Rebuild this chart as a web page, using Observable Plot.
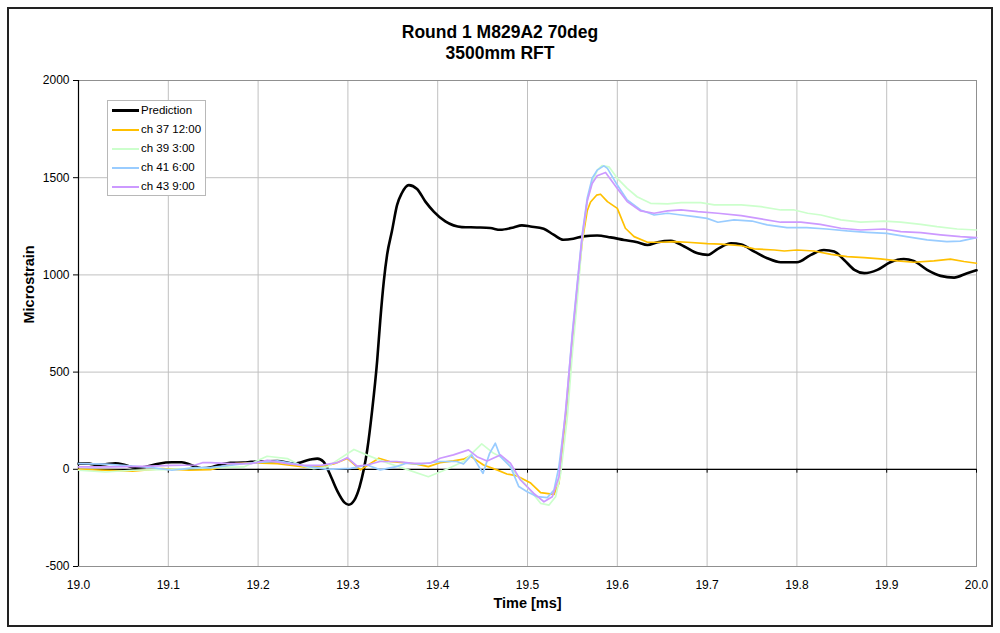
<!DOCTYPE html>
<html>
<head>
<meta charset="utf-8">
<script src="https://cdn.jsdelivr.net/npm/d3@7"></script>
<script src="https://cdn.jsdelivr.net/npm/@observablehq/plot@0.6"></script>
<style>
  body { margin: 0; background: #fff; }
  #chart { position: relative; width: 1000px; height: 633px; font-family: "Liberation Sans", Arial, sans-serif; overflow: hidden; }
  #border { position: absolute; left: 7px; top: 7px; width: 986px; height: 620px; border: 2px solid #222; box-sizing: border-box; pointer-events: none; }
  #title { position: absolute; left: 0; top: 22px; width: 1000px; text-align: center; font-weight: bold; font-size: 17.5px; line-height: 21px; color: #000; }
  #plotwrap { position: absolute; left: 0; top: 70px; }
  #legend { position: absolute; left: 107px; top: 100px; width: 99px; height: 96px; border: 1px solid #b8b8b8; background: #fff; box-sizing: border-box; }
  .item { position: relative; height: 19px; font-size: 11.5px; line-height: 19px; color: #000; }
  .swatch { position: absolute; left: 4px; top: 9px; width: 27px; }
  .label { position: absolute; left: 33px; top: 0; white-space: nowrap; }
</style>
</head>
<body>
<div id="chart">
  <div id="title">Round 1 M829A2 70deg<br>3500mm RFT</div>
  <div id="plotwrap"></div>
  <div id="legend"></div>
  <div id="border"></div>
</div>
<script>
// ---- data ----
const seriesNames = ["Prediction", "ch 37 12:00", "ch 39 3:00", "ch 41 6:00", "ch 43 9:00"];
const xTicks = [19.0, 19.1, 19.2, 19.3, 19.4, 19.5, 19.6, 19.7, 19.8, 19.9, 20.0];
const yTicks = [-500, 0, 500, 1000, 1500, 2000];

const prediction = [
  [19.000, 29], [19.012, 29], [19.019, 22], [19.030, 26], [19.041, 31], [19.052, 22], [19.063, 8],
  [19.074, 12], [19.089, 29], [19.104, 36], [19.115, 36], [19.126, 21], [19.137, 5], [19.149, 12],
  [19.160, 26], [19.169, 33], [19.184, 35], [19.192, 38], [19.2215, 43], [19.240, 29], [19.258, 50],
  [19.266, 55], [19.273, 38], [19.279, -15], [19.288, -110], [19.296, -170], [19.301, -182],
  [19.307, -160], [19.313, -90], [19.3215, 99], [19.327, 303], [19.3326, 559], [19.336, 764],
  [19.340, 968], [19.3437, 1105], [19.349, 1224], [19.3548, 1360], [19.360, 1420], [19.3678, 1462],
  [19.377, 1442], [19.3863, 1377], [19.3956, 1326], [19.4085, 1275], [19.427, 1246], [19.4437, 1244],
  [19.4585, 1241], [19.4696, 1232], [19.4844, 1244], [19.4937, 1255], [19.5033, 1249], [19.518, 1237],
  [19.529, 1207], [19.540, 1181], [19.551, 1186], [19.562, 1198], [19.5776, 1203], [19.5925, 1193],
  [19.6075, 1180], [19.6224, 1168], [19.6336, 1154], [19.6448, 1168], [19.6597, 1175], [19.6746, 1146],
  [19.6896, 1111], [19.7007, 1103], [19.712, 1134], [19.7267, 1163], [19.738, 1156], [19.7526, 1120],
  [19.767, 1086], [19.782, 1065], [19.800, 1065], [19.8156, 1103], [19.830, 1128], [19.8415, 1120],
  [19.8526, 1077], [19.864, 1026], [19.875, 1009], [19.8896, 1026], [19.904, 1065], [19.919, 1082],
  [19.930, 1072], [19.945, 1026], [19.960, 995], [19.975, 986], [19.9896, 1009], [20.000, 1024]
];

const ch37 = [
  [19.000, 0], [19.030, -5], [19.060, -9], [19.093, 3], [19.123, -5], [19.147, -2], [19.175, 29],
  [19.192, 33], [19.2215, 29], [19.251, 12], [19.270, 12], [19.285, 29], [19.2993, 56], [19.314, -3],
  [19.3344, 57], [19.3466, 40], [19.3616, 34], [19.3765, 27], [19.3896, 14], [19.4026, 34],
  [19.4175, 43], [19.4287, 52], [19.436, 69], [19.451, 22], [19.466, -3], [19.477, -24], [19.4884, -34],
  [19.503, -69], [19.5146, -120], [19.5295, -129], [19.535, -72], [19.5388, 100], [19.5444, 357],
  [19.5498, 650], [19.5553, 920], [19.5609, 1170], [19.5665, 1330], [19.5702, 1375], [19.5769, 1410],
  [19.5813, 1415], [19.589, 1377], [19.600, 1342], [19.609, 1240], [19.6187, 1197], [19.6336, 1168],
  [19.6485, 1168], [19.6634, 1171], [19.678, 1168], [19.700, 1161], [19.7156, 1158], [19.738, 1150],
  [19.7526, 1134], [19.775, 1128], [19.786, 1123], [19.800, 1128], [19.819, 1123], [19.838, 1106],
  [19.856, 1094], [19.875, 1089], [19.893, 1082], [19.912, 1072], [19.930, 1065], [19.9526, 1072],
  [19.971, 1081], [19.986, 1069], [20.000, 1060]
];

const ch39 = [
  [19.000, -5], [19.030, -14], [19.060, -5], [19.093, -2], [19.123, 3], [19.152, 9], [19.184, 12],
  [19.210, 67], [19.2325, 55], [19.247, 21], [19.262, 3], [19.277, 12], [19.288, 46], [19.3067, 102],
  [19.3215, 73], [19.340, 39], [19.362, 5], [19.3896, -38], [19.410, 0], [19.4287, 40], [19.449, 131],
  [19.4623, 82], [19.4735, 57], [19.485, -12], [19.4996, -89], [19.5146, -175], [19.524, -184],
  [19.5313, -141], [19.537, -21], [19.5444, 271], [19.550, 600], [19.556, 900], [19.5609, 1180],
  [19.5665, 1380], [19.572, 1480], [19.578, 1540], [19.583, 1562], [19.5907, 1556], [19.600, 1497],
  [19.611, 1445], [19.622, 1402], [19.637, 1368], [19.656, 1365], [19.671, 1372], [19.693, 1372],
  [19.708, 1360], [19.738, 1360], [19.760, 1351], [19.782, 1334], [19.797, 1334], [19.812, 1317],
  [19.8267, 1308], [19.849, 1283], [19.871, 1271], [19.897, 1277], [19.9156, 1271], [19.938, 1260],
  [19.956, 1248], [19.9785, 1236], [20.000, 1231]
];

const ch41 = [
  [19.000, 29], [19.030, 27], [19.060, 17], [19.082, 9], [19.104, -5], [19.130, 9], [19.147, 9],
  [19.184, 29], [19.2215, 43], [19.240, 29], [19.258, 12], [19.277, 0], [19.303, 5], [19.3215, 22],
  [19.336, -3], [19.354, 14], [19.365, 31], [19.380, 27], [19.4026, 40], [19.4213, 40], [19.4287, 27],
  [19.438, 74], [19.4504, -21], [19.4578, 82], [19.4642, 134], [19.4698, 65], [19.481, 14],
  [19.4903, -89], [19.4996, -115], [19.511, -141], [19.522, -146], [19.5295, -107], [19.535, 14],
  [19.5425, 289], [19.5498, 695], [19.5553, 951], [19.5609, 1207], [19.5665, 1394], [19.572, 1497],
  [19.5776, 1539], [19.585, 1561], [19.589, 1548], [19.600, 1462], [19.611, 1385], [19.626, 1334],
  [19.641, 1308], [19.656, 1317], [19.671, 1308], [19.686, 1300], [19.700, 1291], [19.712, 1271],
  [19.730, 1283], [19.750, 1277], [19.767, 1257], [19.789, 1243], [19.811, 1243], [19.833, 1236],
  [19.856, 1226], [19.878, 1219], [19.900, 1214], [19.922, 1197], [19.945, 1180], [19.967, 1171],
  [19.982, 1174], [20.000, 1192]
];

const ch43 = [
  [19.000, 12], [19.034, 12], [19.071, 15], [19.104, 20], [19.130, 22], [19.138, 34], [19.147, 34],
  [19.169, 29], [19.192, 29], [19.210, 46], [19.2325, 29], [19.251, 20], [19.270, 20], [19.288, 34],
  [19.2993, 60], [19.310, 17], [19.3215, 22], [19.3355, 40], [19.3543, 40], [19.3728, 31],
  [19.3914, 31], [19.4026, 57], [19.4175, 74], [19.4343, 100], [19.4437, 65], [19.455, 43],
  [19.4698, 74], [19.481, 31], [19.4922, -55], [19.507, -124], [19.5183, -167], [19.5276, -141],
  [19.535, -38], [19.5425, 306], [19.5498, 680], [19.5553, 940], [19.5609, 1200], [19.5665, 1380],
  [19.572, 1470], [19.5776, 1510], [19.5869, 1527], [19.600, 1445], [19.611, 1377], [19.626, 1329],
  [19.641, 1317], [19.656, 1329], [19.671, 1334], [19.6896, 1325], [19.712, 1317], [19.738, 1305],
  [19.760, 1288], [19.782, 1271], [19.8044, 1271], [19.826, 1260], [19.849, 1240], [19.871, 1231],
  [19.897, 1236], [19.9156, 1223], [19.938, 1217], [19.960, 1206], [19.982, 1197], [20.000, 1192]
];

// ---- styles ----
const seriesData = [prediction, ch37, ch39, ch41, ch43];
const seriesColors = ["#000000", "#ffc000", "#ccffcc", "#99ccff", "#cc99ff"];
const seriesWidths = [2.6, 1.7, 1.7, 1.7, 1.7];

const lineMarks = seriesData.map((s, i) =>
  Plot.line(s, {
    x: d => d[0], y: d => d[1],
    stroke: seriesColors[i], strokeWidth: seriesWidths[i],
    curve: i === 0 ? "monotone-x" : "linear",
    strokeLinejoin: "round", strokeLinecap: "round"
  })
);

const chart = Plot.plot({
  width: 1000,
  height: 563,
  marginLeft: 78,
  marginRight: 24,
  marginTop: 10,
  marginBottom: 67,
  style: { fontFamily: "'Liberation Sans', Arial, sans-serif", fontSize: "12px", color: "#000", background: "transparent" },
  x: { domain: [19, 20] },
  y: { domain: [-500, 2000] },
  marks: [
    Plot.gridX(xTicks, { stroke: "#c0c0c0", strokeOpacity: 1 }),
    Plot.gridY(yTicks, { stroke: "#c0c0c0", strokeOpacity: 1 }),
    Plot.frame({ stroke: "#909090" }),
    Plot.ruleY([0], { stroke: "#000", strokeWidth: 1.2 }),
    Plot.ruleX(xTicks, { x: d => d, y1: 0, y2: -20, stroke: "#000" }),
    Plot.ruleX([19], { stroke: "#000", strokeWidth: 1.2 }),
    Plot.axisY(yTicks, { tickSize: 5, tickPadding: 4, tickFormat: d => String(d), label: null, stroke: "#000" }),
    Plot.axisX(xTicks, { tickSize: 0, tickPadding: 14, tickFormat: d => d.toFixed(1), label: null }),
    Plot.text(["Microstrain"], { frameAnchor: "left", dx: -49, rotate: -90, fontWeight: "bold", fontSize: 14.5 }),
    Plot.text(["Time [ms]"], { frameAnchor: "bottom", dy: 41, fontWeight: "bold", fontSize: 14.5 }),
    ...lineMarks
  ]
});
document.getElementById("plotwrap").appendChild(chart);

// ---- legend ----
const legend = document.getElementById("legend");
seriesNames.forEach((name, i) => {
  const item = document.createElement("div");
  item.className = "item";
  const sw = document.createElement("div");
  sw.className = "swatch";
  sw.style.borderTop = `${i === 0 ? 3 : 2}px solid ${seriesColors[i]}`;
  sw.style.top = i === 0 ? "8px" : "9px";
  const lb = document.createElement("span");
  lb.className = "label";
  lb.textContent = name;
  item.appendChild(sw);
  item.appendChild(lb);
  legend.appendChild(item);
});
</script>
</body>
</html>
